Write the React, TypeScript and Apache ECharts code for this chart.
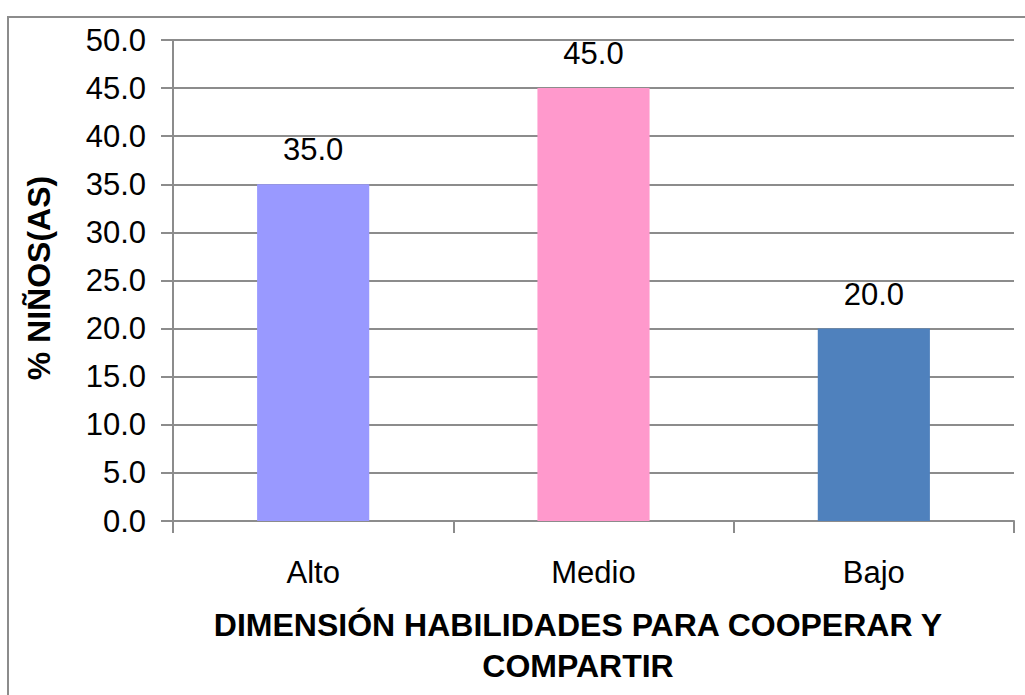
import React, { useEffect, useRef } from "react";
import * as echarts from "echarts";

const categories = ["Alto", "Medio", "Bajo"];
const values = [35.0, 45.0, 20.0];
const barColors = ["#9999FF", "#FF99CC", "#4F81BD"];
const yTicks = { min: 0, max: 50, interval: 5 };
const xTitleLines = ["DIMENSIÓN HABILIDADES PARA COOPERAR Y", "COMPARTIR"];
const yTitle = "% NIÑOS(AS)";

const FONT = '"Liberation Sans", Arial, sans-serif';
const GRAY = "#8c8c8c";
const FS = 31;
const TFS = 32;

export default function App() {
  const ref = useRef<HTMLDivElement>(null);
  useEffect(() => {
    if (!ref.current) return;
    const chart = echarts.init(ref.current, null, { renderer: "svg" });
    chart.setOption({
      animation: false,
      backgroundColor: "#ffffff",
      grid: { left: 173, right: 11, top: 40, bottom: 174, containLabel: false },
      xAxis: {
        type: "category",
        data: categories,
        axisLine: { show: true, lineStyle: { color: GRAY, width: 2 } },
        axisTick: { show: true, length: 12, lineStyle: { color: GRAY, width: 2 } },
        axisLabel: { color: "#000", fontSize: FS, fontFamily: FONT, margin: 36 },
      },
      yAxis: {
        type: "value",
        min: yTicks.min,
        max: yTicks.max,
        interval: yTicks.interval,
        axisLine: { show: true, lineStyle: { color: GRAY, width: 2 } },
        axisTick: { show: true, length: 12, lineStyle: { color: GRAY, width: 2 } },
        splitLine: { show: true, lineStyle: { color: GRAY, width: 2 } },
        axisLabel: {
          color: "#000",
          fontSize: FS,
          fontFamily: FONT,
          margin: 27,
          formatter: (v: number) => v.toFixed(1),
        },
      },
      series: [
        {
          type: "bar",
          barWidth: "40%",
          data: values.map((v, i) => ({ value: v, itemStyle: { color: barColors[i] } })),
          label: {
            show: true,
            position: "top",
            distance: 19,
            color: "#000",
            fontSize: FS,
            fontFamily: FONT,
            formatter: (p: any) => Number(p.value).toFixed(1),
          },
        },
      ],
      graphic: [
        {
          type: "rect",
          shape: { x: 8, y: 17, width: 1040, height: 700 },
          style: { fill: "none", stroke: GRAY, lineWidth: 2 },
          silent: true,
        },
        {
          type: "text",
          x: 578,
          y: 625,
          style: {
            text: xTitleLines[0],
            font: `bold ${TFS}px ${FONT}`,
            fill: "#000",
            textAlign: "center",
            textVerticalAlign: "middle",
          },
        },
        {
          type: "text",
          x: 578,
          y: 666,
          style: {
            text: xTitleLines[1],
            font: `bold ${TFS}px ${FONT}`,
            fill: "#000",
            textAlign: "center",
            textVerticalAlign: "middle",
          },
        },
        {
          type: "text",
          x: 39,
          y: 278,
          rotation: Math.PI / 2,
          style: {
            text: yTitle,
            font: `bold ${TFS}px ${FONT}`,
            fill: "#000",
            textAlign: "center",
            textVerticalAlign: "middle",
          },
        },
      ],
    });
    return () => chart.dispose();
  }, []);
  return (
    <div
      ref={ref}
      style={{ position: "fixed", left: 0, top: 0, width: 1025, height: 695 }}
    />
  );
}
